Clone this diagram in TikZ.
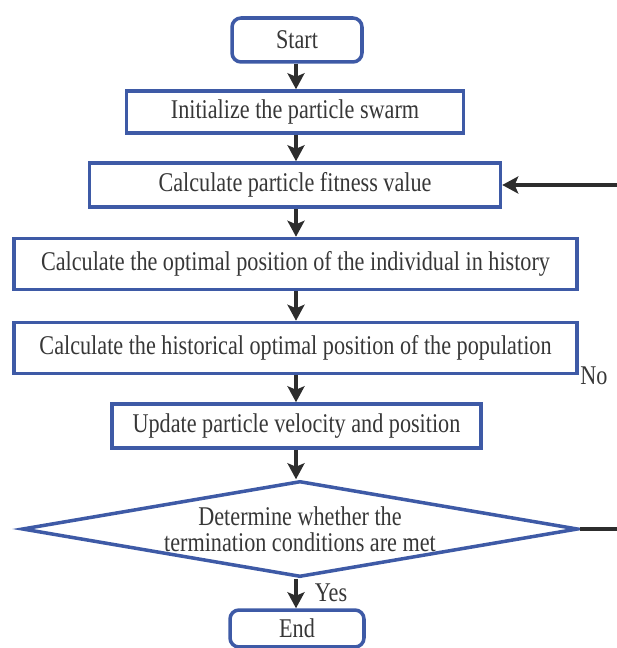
\documentclass[tikz,border=0pt]{standalone}
\usepackage{fontspec}
\setmainfont[FakeStretch=0.82]{Liberation Serif}
\usetikzlibrary{arrows.meta,shapes.geometric}
\definecolor{boxblue}{RGB}{62,90,166}
\definecolor{txtgray}{RGB}{55,55,55}
\definecolor{arrgray}{RGB}{45,45,45}

\begin{document}
\begin{tikzpicture}[x=0.02cm,y=-0.02cm,>={Stealth[length=0.32cm,width=0.34cm,inset=0.07cm]},
	every node/.style={text=txtgray,font=\fontsize{15.4pt}{16pt}\selectfont},
	procbox/.style={draw=boxblue,line width=2pt,fill=white,inner sep=0pt},
	termbox/.style={procbox,rounded corners=0.18cm},
	flow/.style={->,arrgray,line width=2pt}]
		\useasboundingbox (0,0) rectangle (616,648);
		% boxes, top to bottom
		\node[termbox,minimum width=2.6cm,minimum height=0.88cm]   (start)  at (297,40)    {Start};
		\node[procbox,minimum width=6.74cm,minimum height=0.84cm]  (init)   at (295,112)   {Initialize the particle swarm};
		\node[procbox,minimum width=8.22cm,minimum height=0.88cm]  (fit)    at (295,185)   {Calculate particle fitness value};
		\node[procbox,minimum width=11.26cm,minimum height=1.02cm] (indiv)  at (295.5,264) {Calculate the optimal position of the individual in history};
		\node[procbox,minimum width=11.26cm,minimum height=1.02cm] (popu)   at (295.5,348) {Calculate the historical optimal position of the population};
		\node[procbox,minimum width=7.38cm,minimum height=0.88cm]  (update) at (296.5,426) {Update particle velocity and position};
		% decision
		\node[procbox,diamond,aspect=5.8,minimum width=11.12cm,minimum height=1.92cm,align=center,
			font=\fontsize{15.4pt}{14.6pt}\selectfont] (judge) at (300,529)
			{Determine whether the\\termination conditions are met};
		\node[termbox,minimum width=2.68cm,minimum height=0.74cm]  (end)    at (297,628.5) {End};
		% main flow
		\draw[flow] (start.south -| 296,0) -- (init.north -| 296,0);
		\draw[flow] (init.south -| 296,0) -- (fit.north -| 296,0);
		\draw[flow] (fit.south -| 296,0) -- (indiv.north -| 296,0);
		\draw[flow] (indiv.south -| 296,0) -- (popu.north -| 296,0);
		\draw[flow] (popu.south -| 296,0) -- (update.north -| 296,0);
		\draw[flow] (update.south -| 296,0) -- (judge.north -| 296,0);
		\draw[flow] (judge.south -| 296,0) -- (end.north -| 296,0);
		% loop back (leaves the frame on the right)
		\coordinate (back) at (660,529);
		\draw[flow] (judge.east) -- (back) |- (fit.east);
		% branch labels
		\node (no)  at (594,376) {No};
		\node (yes) at (331,593) {Yes};
	\end{tikzpicture}
\end{document}
